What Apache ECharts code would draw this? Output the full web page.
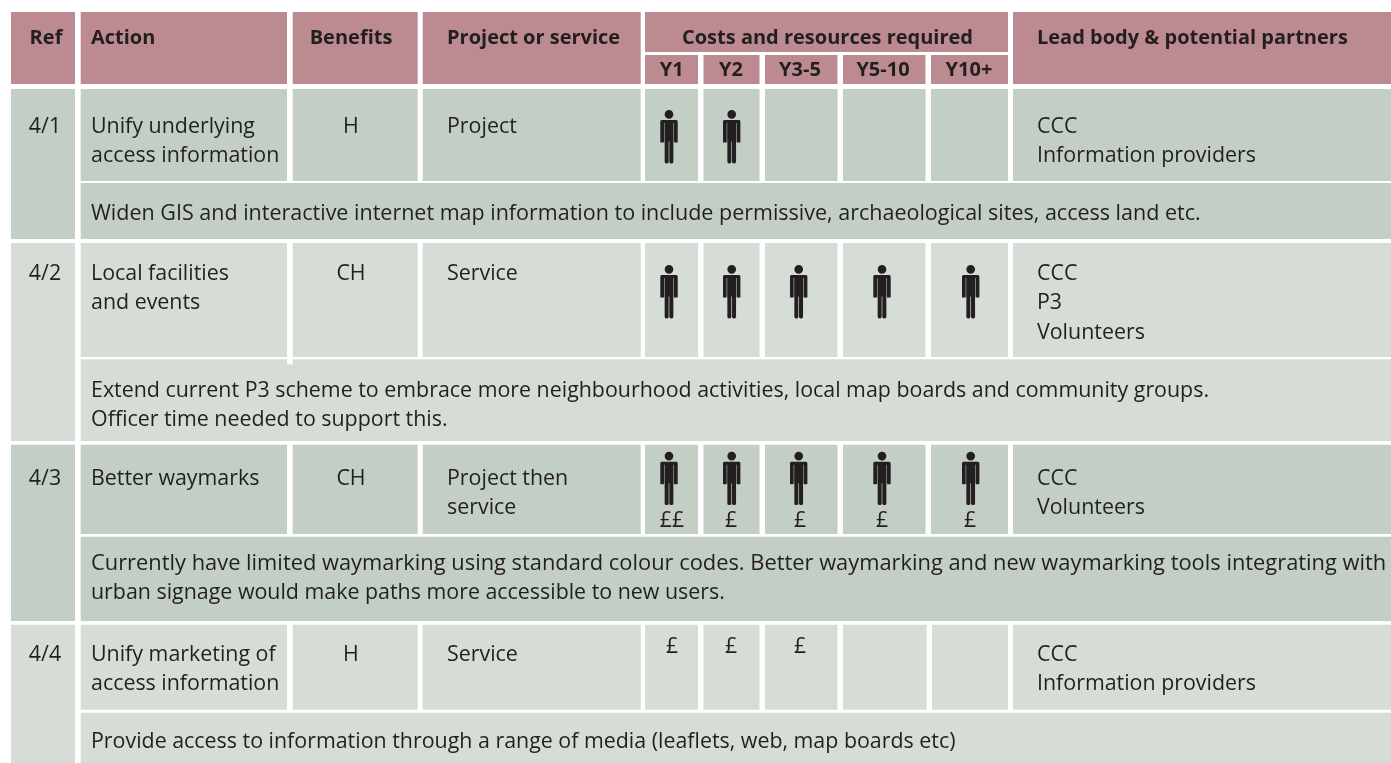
<!DOCTYPE html>
<html>
<head>
<meta charset="utf-8">
<style>html,body{margin:0;padding:0;background:#fff}#c{width:1391px;height:763px}</style>
<script src="https://cdn.jsdelivr.net/npm/echarts@6/dist/echarts.min.js"></script>
</head>
<body>
<div id="c"></div>
<script>
// ---- data ----
const columnHeaders = ['Ref', 'Action', 'Benefits', 'Project or service', 'Lead body & potential partners'];
const costsHeader = 'Costs and resources required';
const years = ['Y1', 'Y2', 'Y3-5', 'Y5-10', 'Y10+'];
const refs = ['4/1', '4/2', '4/3', '4/4'];
const actions = [['Unify underlying', 'access information'], ['Local facilities', 'and events'], ['Better waymarks'], ['Unify marketing of', 'access information']];
const benefits = ['H', 'CH', 'CH', 'H'];
const projectTypes = [['Project'], ['Service'], ['Project then', 'service'], ['Service']];
const leads = [['CCC', 'Information providers'], ['CCC', 'P3', 'Volunteers'], ['CCC', 'Volunteers'], ['CCC', 'Information providers']];
const details = [
  ['Widen GIS and interactive internet map information to include permissive, archaeological sites, access land etc.'],
  ['Extend current P3 scheme to embrace more neighbourhood activities, local map boards and community groups.', 'Officer time needed to support this.'],
  ['Currently have limited waymarking using standard colour codes. Better waymarking and new waymarking tools integrating with', 'urban signage would make paths more accessible to new users.'],
  ['Provide access to information through a range of media (leaflets, web, map boards etc)']
];
const people = [[1, 1, 0, 0, 0], [1, 1, 1, 1, 1], [1, 1, 1, 1, 1], [0, 0, 0, 0, 0]];
const pounds = [[0, 0, 0, 0, 0], [0, 0, 0, 0, 0], [2, 1, 1, 1, 1], [1, 1, 1, 0, 0]];

// ---- layout (table geometry, in page units) ----
const W = 1391, H = 763;
const colRef = [11, 75], colAction = [80.7, 287], colBenefits = [292.7, 417.7], colProject = [422.7, 640.7], colLead = [1013, 1391];
const colCosts = [645, 1008];
const colYears = [[645, 698], [703.5, 759.5], [765, 837.5], [843, 925.5], [931, 1008]];
const colYearsLast = [[645, 698], [703.5, 759.5], [765, 837.5], [843, 926.7], [932, 1008]];
const headTop = 12, headBottom = 84, costsBottom = 52, yearsTop = 55;
const blocks = [
  { top: 89, rowBottom: 181, detailTop: 183, bottom: 239, rowText: 127, detailText: 214, peopleTop: 110, poundText: 0, fill: '#c3cec5', years: colYears },
  { top: 243, rowBottom: 357, detailTop: 359.3, bottom: 441, rowText: 274, detailText: 391, peopleTop: 265, poundText: 0, fill: '#d6ddd6', years: colYears },
  { top: 444.7, rowBottom: 534, detailTop: 536.7, bottom: 621, rowText: 479, detailText: 564, peopleTop: 451.7, poundText: 521, fill: '#c3cec5', years: colYears },
  { top: 624.7, rowBottom: 709.7, detailTop: 712.7, bottom: 763, rowText: 655, detailText: 742, peopleTop: 0, poundText: 647, fill: '#d6ddd6', years: colYearsLast }
];
const lineGap = 29.3;
const peopleCx = [669, 731.7, 798.7, 882, 970.7];
const poundCx = [672, 731, 800, 882, 970];
const yearCx = [671.7, 731, 800, 883, 969];
const xRefC = 45, xAction = 91, xBenefitsC = 351, xProject = 447, xLead = 1037, xCostsC = 827.5, xDetail = 91;
const personW = 17.4, personH = 53.4;
const HEAD_FILL = '#bc8a91', INK = '#231f20';
const FONT = '"Open Sans"';
const SIZE = 21.4, HEAD_SIZE = 20;
// the source sets these detail lines slightly wider (line index "block-line" -> font size)
const detailSizes = { '0-0': 21.5, '2-0': 21.87 };
const PERSON = 'M13 14A13 13 0 1 1 39 14A13 13 0 1 1 13 14Z' +
  'M4 31H48Q52 31 52 36V40H0V36Q0 31 4 31Z' +
  'M0 40H11V96Q11 98 9 98H2Q0 98 0 96Z' +
  'M41 40H52V96Q52 98 50 98H43Q41 98 41 96Z' +
  'M12.5 36H39.5V95H12.5Z' +
  'M13 90H25V155Q25 160 20 160H18Q13 160 13 155Z' +
  'M27 90H39V155Q39 160 34 160H32Q27 160 27 155Z';

// ---- build marks ----
const rects = [];
const addRect = (x, y0, y1, fill) => rects.push({ x0: x[0], x1: x[1], y0, y1, fill });
[colRef, colAction, colBenefits, colProject, colLead].forEach(c => addRect(c, headTop, headBottom, HEAD_FILL));
addRect(colCosts, headTop, costsBottom, HEAD_FILL);
colYears.forEach(c => addRect(c, yearsTop, headBottom, HEAD_FILL));
blocks.forEach(b => {
  addRect(colRef, b.top, b.bottom, b.fill);
  [colAction, colBenefits, colProject, ...b.years, colLead].forEach(c => addRect(c, b.top, b.rowBottom, b.fill));
  addRect([colAction[0], W], b.detailTop, b.bottom, b.fill);
});
addRect([colAction[1], colBenefits[0]], blocks[1].detailTop - 1, blocks[1].detailTop + 5, '#ffffff');

const texts = [];
const addText = (text, x, y, align, bold, size) => texts.push({ text, x, y, align, bold, size: size || (bold ? HEAD_SIZE : SIZE) });
const addLines = (lines, x, y, align) => lines.forEach((l, i) => addText(l, x, y + i * lineGap, align, false));
const headY = 38, yearY = 70;
addText(columnHeaders[0], xRefC + 1, headY, 'center', true);
addText(columnHeaders[1], xAction, headY, 'left', true);
addText(columnHeaders[2], xBenefitsC, headY, 'center', true);
addText(columnHeaders[3], xProject, headY, 'left', true);
addText(columnHeaders[4], xLead, headY, 'left', true);
addText(costsHeader, xCostsC, headY, 'center', true);
years.forEach((y, i) => addText(y, yearCx[i], yearY, 'center', true));
const persons = [];
blocks.forEach((b, r) => {
  addText(refs[r], xRefC, b.rowText, 'center', false);
  addLines(actions[r], xAction, b.rowText, 'left');
  addText(benefits[r], xBenefitsC, b.rowText, 'center', false);
  addLines(projectTypes[r], xProject, b.rowText, 'left');
  addLines(leads[r], xLead, b.rowText, 'left');
  details[r].forEach((l, i) => addText(l, xDetail, b.detailText + i * lineGap, 'left', false, detailSizes[r + '-' + i]));
  people[r].forEach((n, c) => { if (n) persons.push({ cx: peopleCx[c], top: b.peopleTop }); });
  pounds[r].forEach((n, c) => { if (n) addText('£'.repeat(n), poundCx[c], b.poundText, 'center', false); });
});

const chart = echarts.init(document.getElementById('c'), null, { renderer: 'canvas' });
chart.setOption({
  animation: false,
  backgroundColor: '#ffffff',
  grid: { left: 0, right: 0, top: 0, bottom: 0 },
  xAxis: { type: 'value', min: 0, max: W, show: false },
  yAxis: { type: 'value', min: 0, max: H, inverse: true, show: false },
  tooltip: { show: false },
  series: [
    {
      type: 'custom', silent: true, clip: false, z: 1,
      data: rects.map((_, i) => [i]),
      renderItem(params, api) {
        const r = rects[api.value(0)];
        const a = api.coord([r.x0, r.y0]), b = api.coord([r.x1, r.y1]);
        return { type: 'rect', shape: { x: a[0], y: a[1], width: b[0] - a[0], height: b[1] - a[1] }, style: { fill: r.fill } };
      }
    },
    {
      type: 'custom', silent: true, clip: false, z: 2,
      data: persons.map((_, i) => [i]),
      renderItem(params, api) {
        const p = persons[api.value(0)];
        const a = api.coord([p.cx - personW / 2, p.top]), b = api.coord([p.cx + personW / 2, p.top + personH]);
        return { type: 'path', shape: { pathData: PERSON, x: a[0], y: a[1], width: b[0] - a[0], height: b[1] - a[1], layout: 'cover' }, style: { fill: INK } };
      }
    },
    {
      type: 'custom', silent: true, clip: false, z: 3,
      data: texts.map((_, i) => [i]),
      renderItem(params, api) {
        const t = texts[api.value(0)];
        const a = api.coord([t.x, t.y]);
        return {
          type: 'text',
          style: {
            text: t.text, x: a[0], y: a[1], fill: INK, align: t.align, verticalAlign: 'middle',
            fontFamily: FONT, fontSize: t.size, fontWeight: t.bold ? 700 : 400
          }
        };
      }
    }
  ]
});
</script>
</body>
</html>
